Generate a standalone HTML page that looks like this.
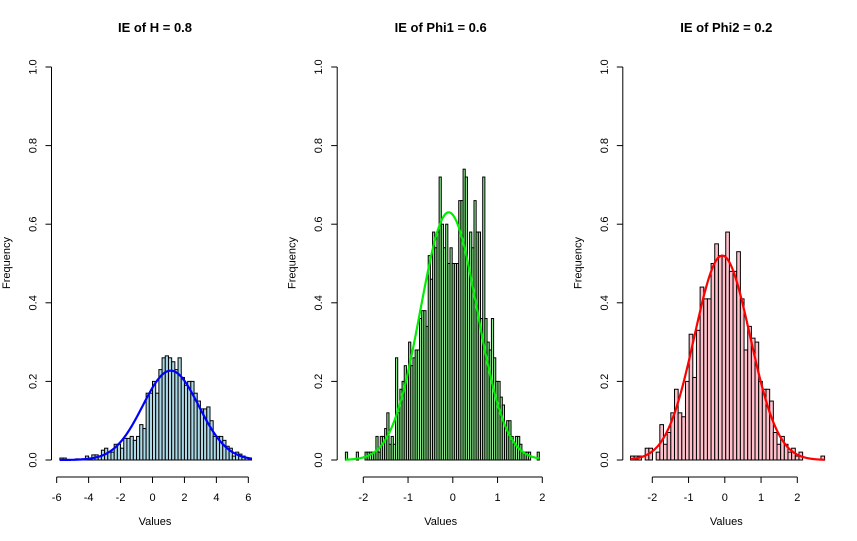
<!DOCTYPE html>
<html><head><meta charset="utf-8"><style>
html,body{margin:0;padding:0;background:#fff}
svg{display:block;font-family:"Liberation Sans",Arial,sans-serif}
</style></head><body>
<svg id="chart" width="857" height="541" viewBox="0 0 857 541"></svg>
<script>
// Panel 1: IE of H
const p1Start = -5.8, p1Width = 0.2;
const p1Values = [0.005,0.005,0,0,0,0.003,0,0.003,0.01,0.003,0.013,0.013,0.01,0.025,0.03,0.02,0.02,0.04,0.04,0.03,0.055,0.055,0.06,0.05,0.06,0.09,0.08,0.17,0.17,0.2,0.17,0.23,0.26,0.265,0.26,0.25,0.23,0.26,0.21,0.19,0.2,0.2,0.17,0.15,0.13,0.13,0.135,0.1,0.06,0.06,0.06,0.05,0.035,0.03,0.01,0.02,0.015,0.01,0.005,0.005];
const p1Fit = [1.14, 1.755];
const p1Ticks = [-6,-4,-2,0,2,4,6];
// Panel 2: IE of Phi1
const p2Start = -2.4, p2Width = 0.0487;
const p2Values = [0.02,0,0,0,0,0.02,0,0,0,0.02,0.02,0.02,0.02,0.02,0.06,0.02,0.06,0.06,0.08,0.12,0.04,0.06,0.04,0.26,0.12,0.18,0.2,0.24,0.22,0.3,0.24,0.26,0.28,0.28,0.36,0.38,0.38,0.34,0.52,0.46,0.58,0.54,0.58,0.72,0.6,0.54,0.6,0.5,0.54,0.5,0.5,0.5,0.66,0.66,0.74,0.72,0.5,0.58,0.54,0.66,0.58,0.58,0.36,0.72,0.36,0.3,0.28,0.36,0.26,0.2,0.2,0.16,0.14,0.08,0.1,0.1,0.06,0.04,0.06,0.06,0.04,0.02,0.02,0.02,0.02,0,0,0,0.02];
const p2Fit = [-0.09, 0.633];
const p2Ticks = [-2,-1,0,1,2];
// Panel 3: IE of Phi2
const p3Start = -2.6, p3Width = 0.101;
const p3Values = [0.01,0.01,0.01,0,0.03,0.03,0,0.02,0.09,0.04,0.07,0.12,0.18,0.12,0.11,0.2,0.32,0.21,0.33,0.44,0.41,0.41,0.5,0.55,0.52,0.52,0.58,0.48,0.48,0.53,0.41,0.28,0.34,0.31,0.3,0.2,0.18,0.18,0.15,0.07,0.04,0.06,0.04,0.02,0.03,0.01,0.02,0,0,0,0,0,0.01];
const p3Fit = [-0.07, 0.767];
const p3Ticks = [-2,-1,0,1,2];
const yTicks = [0,0.2,0.4,0.6,0.8,1.0];
const yTickLabels = ["0.0","0.2","0.4","0.6","0.8","1.0"];

const panels = [
 {title:"IE of H = 0.8", start:p1Start, width:p1Width, values:p1Values, fit:p1Fit, ticks:p1Ticks, x0:152.5, k:15.97, yaxis:51.5, fill:"#add8e6", line:"#0000ff", name:"h"},
 {title:"IE of Phi1 = 0.6", start:p2Start, width:p2Width, values:p2Values, fit:p2Fit, ticks:p2Ticks, x0:452.8, k:44.75, yaxis:337.2, fill:"#90ee90", line:"#00ee00", name:"phi1"},
 {title:"IE of Phi2 = 0.2", start:p3Start, width:p3Width, values:p3Values, fit:p3Fit, ticks:p3Ticks, x0:724.8, k:36.25, yaxis:622.8, fill:"#ffc0cb", line:"#ff0000", name:"phi2"}
];
const NS="http://www.w3.org/2000/svg";
const svg=document.getElementById('chart');
function mk(tag,attrs,parent,text){const e=document.createElementNS(NS,tag);for(const a in attrs)e.setAttribute(a,attrs[a]);if(text!==undefined)e.textContent=text;parent.appendChild(e);return e;}
const yScale=v=>460-393*v;
panels.forEach(p=>{
  const xs=v=>p.x0+p.k*v;
  const g=mk('g',{},svg);
  
  
  const t=mk('text',{x:p.yaxis+103.5,y:32,'text-anchor':'middle','font-size':13,'font-weight':'bold',fill:'#000'},g,p.title);
  
  
  // bars
  const bg=mk('g',{},g);
  
  
  p.values.forEach((v,i)=>{
    const a=xs(p.start+i*p.width), b=xs(p.start+(i+1)*p.width);
    const r=mk('rect',{x:a,y:yScale(v),width:b-a,height:460-yScale(v),fill:p.fill,stroke:'#000','stroke-width':1},bg);
    
    
  });
  // fit curve
  const lo=p.start, hi=p.start+p.values.length*p.width;
  let d='';
  for(let j=0;j<=200;j++){const x=lo+(hi-lo)*j/200;const y=Math.exp(-0.5*((x-p.fit[0])/p.fit[1])**2)/(p.fit[1]*Math.sqrt(2*Math.PI));d+=(j?'L':'M')+xs(x).toFixed(2)+','+yScale(y).toFixed(2);}
  const c=mk('path',{d:d,fill:'none',stroke:p.line,'stroke-width':2.2},g);
  
  
  // y axis
  const ya=mk('g',{stroke:'#000','stroke-width':1},g);
  
  
  mk('line',{x1:p.yaxis,y1:yScale(0),x2:p.yaxis,y2:yScale(1)},ya);
  yTicks.forEach((v,i)=>{
    mk('line',{x1:p.yaxis-6,y1:yScale(v),x2:p.yaxis,y2:yScale(v)},ya);
    const lx=p.yaxis-15, ly=yScale(v);
    const tl=mk('text',{x:lx,y:ly,'text-anchor':'middle',transform:`rotate(-90 ${lx} ${ly})`,'font-size':11,fill:'#000',stroke:'none'},ya,yTickLabels[i]);
    
    
  });
  const yl=p.yaxis-41.5;
  const yt=mk('text',{x:yl,y:263,'text-anchor':'middle',transform:`rotate(-90 ${yl} 263)`,'font-size':11,fill:'#000'},g,'Frequency');
  
  
  // x axis
  const xa=mk('g',{stroke:'#000','stroke-width':1},g);
  
  
  const t0=p.ticks[0], t1=p.ticks[p.ticks.length-1];
  mk('line',{x1:xs(t0),y1:477,x2:xs(t1),y2:477},xa);
  p.ticks.forEach(v=>{
    mk('line',{x1:xs(v),y1:477,x2:xs(v),y2:483},xa);
    const tl=mk('text',{x:xs(v),y:501,'text-anchor':'middle','font-size':11,fill:'#000',stroke:'none'},xa,String(v));
    
    
  });
  const xt=mk('text',{x:p.yaxis+103.5,y:525,'text-anchor':'middle','font-size':11,fill:'#000'},g,'Values');
  
  
});
</script>
</body></html>
